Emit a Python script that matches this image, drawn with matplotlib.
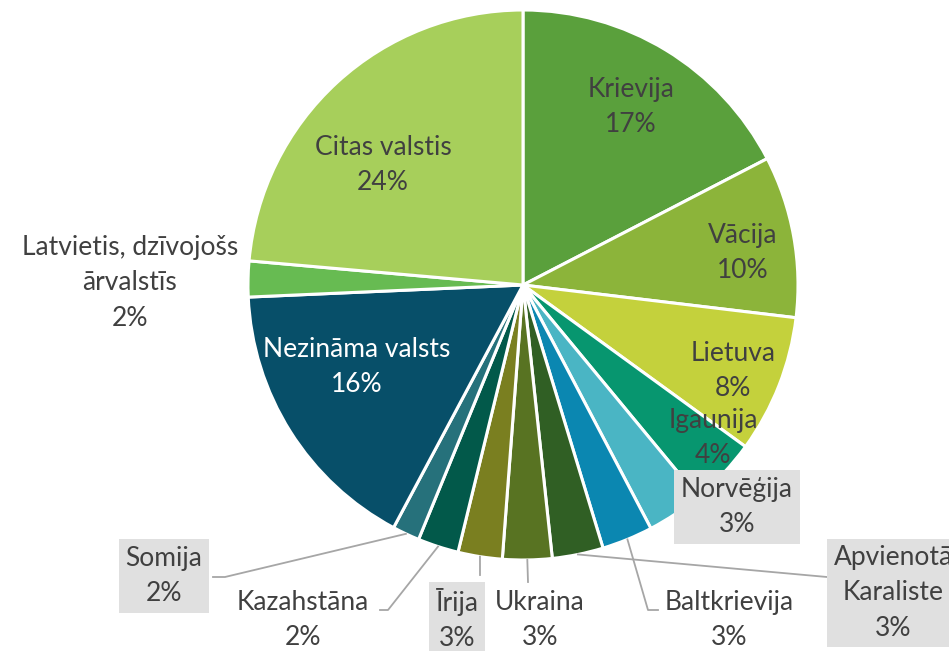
import matplotlib.pyplot as plt
import numpy as np

plt.rcParams['font.family'] = ['Lato', 'DejaVu Sans']

# slice data, clockwise from 12 o'clock
countries = ["Krievija", "Vācija", "Lietuva", "Igaunija", "Norvēģija",
             "Baltkrievija", "Apvienotā\nKaraliste", "Ukraina", "Īrija",
             "Kazahstāna", "Somija", "Nezināma valsts",
             "Latvietis, dzīvojošs\nārvalstīs", "Citas valstis"]
shares = [17.4, 9.5, 8.1, 4.0, 3.3, 3.0, 3.0, 2.9, 2.6, 2.4, 1.6, 16.5, 2.1, 23.6]
colors = ["#5aa03c", "#8cb43a", "#c4d13c", "#07966f", "#4ab5c4",
          "#0b87b1", "#305f24", "#587322", "#7a7f20", "#02594a",
          "#26717b", "#074f69", "#67bb52", "#a7cf5b"]

# label centres in pixels (x, y from top) and whether a grey box is drawn
label_pos = [(631, 107), (743, 253), (733, 371), (713, 438), (737, 507),
             (729, 620), (893, 593), (540, 620), (457, 620), (303, 620),
             (164, 576), (357, 367), (130, 283), (383, 165)]
boxed = [False, False, False, False, True, False, True, False, True,
         False, True, False, False, False]
text_colors = ["#404040"] * 11 + ["white"] + ["#404040"] * 2
# leader lines: slice index -> elbow points (pixels)
leaders = {
    10: [(225, 577), (213, 577)],
    9: [(388, 610), (380, 610)],
    8: [(480, 575)],
    7: [(528, 582)],
    5: [(648, 610), (658, 610)],
    6: [(827, 577)],
}

W, H = 949, 651
cx, cy, R = 523, H - 285, 275

fig = plt.figure(figsize=(W / 100, H / 100), dpi=100)
ax = fig.add_axes([0, 0, 1, 1])
wedges, _ = ax.pie(shares, colors=colors, startangle=90, counterclock=False,
                   center=(cx, cy), radius=R,
                   wedgeprops=dict(edgecolor="white", linewidth=2.2))
ax.set_xlim(0, W)
ax.set_ylim(0, H)
ax.set_aspect("equal")
ax.axis("off")

for i, w in leaders.items():
    ang = np.deg2rad((wedges[i].theta1 + wedges[i].theta2) / 2)
    pts = [(cx + R * np.cos(ang), cy + R * np.sin(ang))]
    pts += [(x, H - y) for x, y in w]
    xs, ys = zip(*pts)
    ax.plot(xs, ys, color="#a6a6a6", lw=1.3, zorder=1)

for name, s, (px, py), b, tc in zip(countries, shares, label_pos, boxed,
                                    text_colors):
    txt = f"{name}\n{round(s):.0f}%"
    kw = {}
    if b:
        kw["bbox"] = dict(boxstyle="square,pad=0.25", fc="#e0e0e0", ec="none")
    ax.text(px, H - py, txt, ha="center", va="center", fontsize=19,
            color=tc, linespacing=1.5, zorder=5, **kw)

fig.savefig("out.png", dpi=100)
